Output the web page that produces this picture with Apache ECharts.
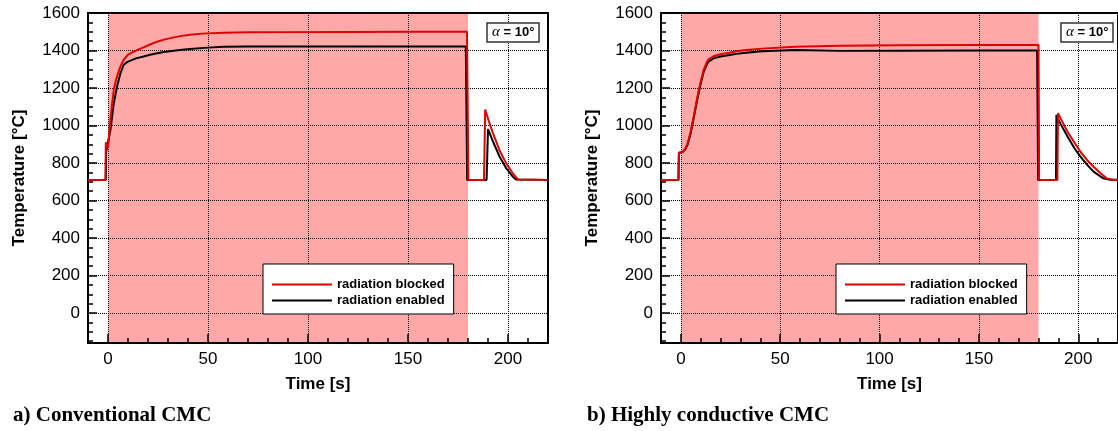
<!DOCTYPE html>
<html>
<head>
<meta charset="utf-8">
<title>Temperature – radiation blocked vs enabled</title>
<script src="https://cdn.jsdelivr.net/npm/echarts@6/dist/echarts.min.js"></script>
<style>
  html, body { margin: 0; padding: 0; background: #fff; overflow: hidden; }
  #chart { width: 1118px; height: 431px; }
</style>
</head>
<body>
<div id="chart"></div>
<script>
"use strict";

// a) Conventional CMC
const timeBlockedA = [-10, -1.3, -1.1, 0, 1.2, 2, 2.9, 3.7, 4.5, 6, 7.8, 10, 12.9, 15, 17.8, 21, 24.6, 28, 32.9, 37, 41, 47, 57.8, 70, 90, 120, 150, 179.5, 180.2, 188, 188.6, 190.5, 192.5, 195.8, 199.1, 202.4, 205, 220];
const tempBlockedA = [710, 710, 910, 880, 1030, 1110, 1190, 1230, 1260, 1310, 1350, 1378, 1394, 1405, 1417, 1432, 1447, 1458, 1470, 1478, 1484, 1490, 1495, 1497, 1498, 1499, 1500, 1500, 710, 710, 1085, 1020, 958, 867, 798, 745, 712, 710];
const timeEnabledA = [-10, -1.1, -0.9, 0, 1.2, 2.9, 4.5, 6.2, 7.8, 9.5, 11.2, 14, 17.8, 21, 24.6, 28, 32.9, 37, 41, 48, 57.8, 70, 90, 120, 150, 178.9, 179.6, 189.3, 190, 192.5, 195.8, 199.1, 202.4, 204, 220];
const tempEnabledA = [710, 710, 860, 850, 976, 1119, 1207, 1278, 1323, 1338, 1346, 1358, 1368, 1377, 1385, 1392, 1399, 1404, 1408, 1414, 1420, 1421, 1422, 1422, 1422, 1422, 710, 710, 981, 914, 834, 772, 727, 712, 710];

// b) Highly conductive CMC
const timeBlockedB = [-10, -1.2, -1, 0.8, 2, 3.3, 4.9, 6.6, 8.2, 9.8, 11.5, 13, 13.9, 16.4, 20, 24.6, 28, 32.8, 41, 57.4, 80, 110, 150, 180, 180.3, 189.5, 189.8, 191.5, 194.6, 198, 201.1, 204.5, 207.7, 211, 214.3, 218, 220];
const tempBlockedB = [710, 710, 855, 858, 872, 900, 965, 1055, 1145, 1225, 1297, 1337, 1353, 1369, 1380, 1388, 1396, 1403, 1410, 1420, 1425, 1428, 1430, 1430, 710, 710, 1065, 1030, 967, 910, 860, 815, 780, 748, 718, 710, 710];
const timeEnabledB = [-10, -1.2, -1, 0.8, 2, 3.3, 4.9, 6.6, 8.2, 9.8, 11.5, 13, 13.9, 16.4, 20, 24.6, 28, 32.8, 41, 57.4, 80, 110, 150, 179.3, 179.8, 188.8, 189, 191, 194.6, 198, 201.1, 204.5, 207.7, 212.6, 216, 220];
const tempEnabledB = [710, 710, 855, 858, 870, 896, 958, 1047, 1136, 1216, 1287, 1325, 1341, 1358, 1368, 1376, 1382, 1388, 1396, 1403, 1398, 1399, 1400, 1400, 710, 710, 1056, 1010, 941, 880, 834, 790, 754, 718, 711, 710];

// heating phase (pink band)
const heatingPhase = [0, 180];
const seriesNames = ['radiation blocked', 'radiation enabled'];
const captions = ['a) Conventional CMC', 'b) Highly conductive CMC'];
const angleLabel = '{i|α} = 10°';

const sans = 'Liberation Sans, Arial, sans-serif';
const serif = 'Liberation Serif, Times New Roman, serif';

function pairs(t, v) {
  return t.map((x, i) => [x, v[i]]);
}

function xAxisFor(gridIndex) {
  return {
    type: 'value', gridIndex: gridIndex, min: -10, max: 220,
    minInterval: 50, maxInterval: 50, z: 3,
    name: 'Time [s]', nameLocation: 'middle', nameGap: 33,
    nameTextStyle: { fontFamily: sans, fontSize: 17, fontWeight: 'bold', color: '#000' },
    axisLine: { onZero: false, lineStyle: { color: '#000', width: 2 } },
    axisTick: { inside: true, length: 9, lineStyle: { color: '#000', width: 1.5 } },
    minorTick: { show: true, splitNumber: 5, length: 5, lineStyle: { color: '#000', width: 1.5 } },
    axisLabel: { showMinLabel: false, showMaxLabel: false, margin: 8, fontFamily: sans, fontSize: 17, color: '#000' },
    splitLine: { show: true, lineStyle: { color: '#000', type: 'dotted', width: 1 } },
  };
}

function yAxisFor(gridIndex) {
  return {
    type: 'value', gridIndex: gridIndex, min: -160, max: 1600,
    minInterval: 200, maxInterval: 200, z: 3,
    name: 'Temperature [°C]', nameLocation: 'middle', nameGap: 60,
    nameTextStyle: { fontFamily: sans, fontSize: 17, fontWeight: 'bold', color: '#000' },
    axisLine: { onZero: false, lineStyle: { color: '#000', width: 2 } },
    axisTick: { inside: true, length: 9, lineStyle: { color: '#000', width: 1.5 } },
    minorTick: { show: true, splitNumber: 4, length: 5, lineStyle: { color: '#000', width: 1.5 } },
    axisLabel: {
      showMinLabel: false, margin: 8, fontFamily: sans, fontSize: 17, color: '#000',
      formatter: (v) => String(v),
    },
    splitLine: { show: true, lineStyle: { color: '#000', type: 'dotted', width: 1 } },
  };
}

function lineSeries(name, color, gridIndex, data, withBand) {
  let s = {
    name: name, type: 'line', xAxisIndex: gridIndex, yAxisIndex: gridIndex,
    data: data, symbol: 'none', z: 5,
    lineStyle: { color: color, width: 2 },
    itemStyle: { color: color },
  };
  if (withBand) {
    s.markArea = {
      silent: true, z: 1,
      itemStyle: { color: '#FFA8A8' },
      data: [[{ xAxis: heatingPhase[0] }, { xAxis: heatingPhase[1] }]],
    };
  }
  return s;
}

function legendAt(left) {
  return {
    left: left, top: 264, orient: 'vertical', z: 10,
    data: seriesNames,
    icon: 'rect', itemWidth: 60, itemHeight: 2, itemGap: 1,
    padding: [13, 9, 6, 9],
    backgroundColor: '#fff', borderColor: '#000', borderWidth: 1,
    textStyle: { fontFamily: sans, fontSize: 13, fontWeight: 'bold', color: '#000', lineHeight: 15 },
  };
}

function angleBox(left) {
  return {
    text: angleLabel, left: left, top: 23, padding: [2, 5],
    backgroundColor: '#fff', borderColor: '#333', borderWidth: 1.5,
    textStyle: {
      fontFamily: sans, fontSize: 13, fontWeight: 'bold', color: '#000',
      rich: { i: { fontFamily: serif, fontStyle: 'italic', fontSize: 15, fontWeight: 'normal', color: '#000' } },
    },
  };
}

function caption(text, left) {
  return {
    text: text, left: left, top: 405, padding: 0,
    textStyle: { fontFamily: serif, fontSize: 21, fontWeight: 'bold', color: '#000' },
  };
}

let myChart = echarts.init(document.getElementById('chart'));

let option = {
  animation: false,
  backgroundColor: '#fff',
  title: [
    angleBox(487), angleBox(1061),
    caption(captions[0], 13), caption(captions[1], 587),
  ],
  legend: [legendAt(263), legendAt(836)],
  grid: [
    { left: 88, top: 13, width: 460, height: 330, z: 4, show: true, borderColor: '#000', borderWidth: 2, backgroundColor: 'transparent' },
    { left: 661, top: 13, width: 460, height: 330, z: 4, show: true, borderColor: '#000', borderWidth: 2, backgroundColor: 'transparent' },
  ],
  xAxis: [xAxisFor(0), xAxisFor(1)],
  yAxis: [yAxisFor(0), yAxisFor(1)],
  series: [
    lineSeries(seriesNames[1], '#000000', 0, pairs(timeEnabledA, tempEnabledA), true),
    lineSeries(seriesNames[0], '#E00000', 0, pairs(timeBlockedA, tempBlockedA), false),
    lineSeries(seriesNames[1], '#000000', 1, pairs(timeEnabledB, tempEnabledB), true),
    lineSeries(seriesNames[0], '#E00000', 1, pairs(timeBlockedB, tempBlockedB), false),
  ],
};

myChart.setOption(option);
</script>
</body>
</html>
